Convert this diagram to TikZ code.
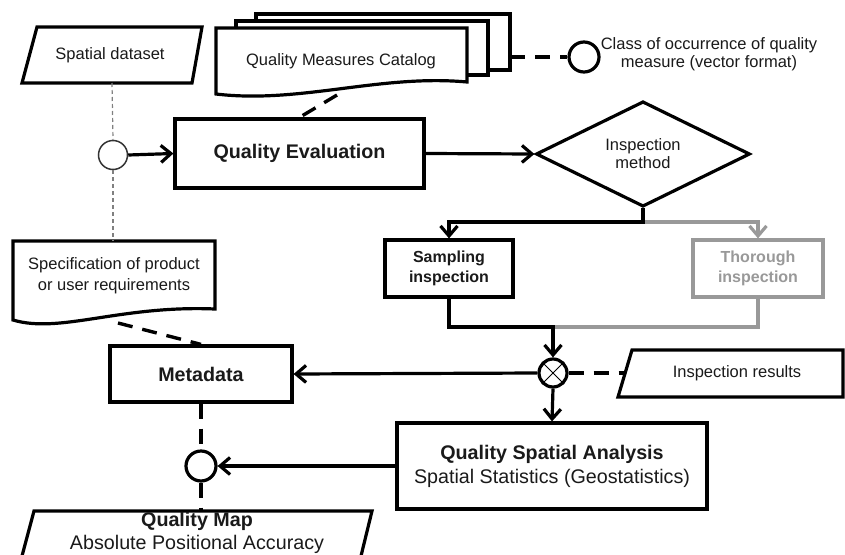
\documentclass[tikz,border=0pt]{standalone}
\usepackage{fontspec}
\setmainfont{Liberation Sans}
\usetikzlibrary{arrows.meta,shapes.geometric}
\definecolor{txt}{HTML}{1A1A1A}
\definecolor{ghost}{HTML}{999999}
\newcommand\fsreg{\fontsize{16.5}{19}\selectfont}
\newcommand\fsbig{\fontsize{19.7}{23.5}\selectfont}
\begin{document}
\begin{tikzpicture}[x=1pt,y=-1pt,
  shapeline/.style={draw=black, line width=3.2pt, fill=white, line join=miter},
  box/.style={shapeline, inner sep=0pt, text=txt, align=center},
  conn/.style={line width=3.2pt},
  arr/.style={conn, -{Straight Barb[length=10pt,width=17pt]}},
  thickdash/.style={line width=3.4pt, dash pattern=on 15pt off 10pt},
  thindash/.style={line width=1.2pt, draw=gray, dash pattern=on 4pt off 3pt},
  lbl/.style={text=txt, align=center, inner sep=0pt, font=\fsreg},
  ring/.style={circle, draw=black, line width=3.2pt, fill=white, inner sep=0pt, minimum size=#1},
]
\useasboundingbox (0,0) rectangle (845,554);

% ---- Quality Measures Catalog (stack of documents)
\draw[shapeline] (256,14) rectangle (510,70);
\draw[shapeline] (236,21) rectangle (488,75);
\draw[shapeline] (216,28) -- (467,28) -- (467,82) .. controls (380,74) and (300,104) .. (216,94) -- cycle;
\node[lbl] (qmc) at (341,61) {Quality Measures Catalog};
\coordinate (qmcR) at (510,57);
\coordinate (qmcB) at (337,95);

% ---- Class of occurrence
\node[ring=30pt] (cls) at (584,57) {};
\node[lbl, font=\fontsize{16.5}{18}\selectfont] (clst) at (709,54) {Class of occurrence of quality\\measure (vector format)};
\draw[thickdash] (qmcR) -- (cls.west);

% ---- Spatial dataset
\draw[shapeline] (37,27) -- (202,27) -- (192,83) -- (22,83) -- cycle;
\node[lbl] (sd) at (110,55) {Spatial dataset};
\coordinate (sdB) at (112,83);

% ---- Specification document
\draw[shapeline] (13,241) -- (215,241) -- (215,309) .. controls (120,305) and (60,334) .. (13,320) -- cycle;
\node[lbl, font=\fontsize{16.5}{21}\selectfont] (spec) at (114,276) {Specification of product\\or user requirements};
\coordinate (specT) at (113,241);
\coordinate (specB) at (118,323);

% ---- junction circle (thin)
\node[circle, draw=black!80, line width=1.5pt, fill=white, inner sep=0pt, minimum size=29pt] (o1) at (113,155) {};
\draw[thindash] (sdB) -- (o1.north);
\draw[thindash] (o1.south) -- (specT);

% ---- Quality Evaluation
\node[box, minimum width=249pt, minimum height=69pt, font=\fsbig\bfseries] (qe) at (299.5,153.5) {Quality Evaluation};
\draw[arr] (o1.east) -- (qe.west);
\draw[thickdash] (qmcB) -- (qe.north);

% ---- Inspection method
\node[diamond, draw=black, line width=3.2pt, fill=white, inner sep=0pt, minimum width=214pt, minimum height=94pt, text=txt, align=center, font=\fontsize{16.5}{18}\selectfont] (im) at (643,154) {Inspection\\method};
\draw[arr] (qe.east) -- (im.west);

% ---- Sampling / Thorough
\node[box, minimum width=128pt, minimum height=57pt, font=\fontsize{16}{20}\selectfont\bfseries] (si) at (449,268.5) {Sampling\\inspection};
\node[box, draw=ghost, text=ghost, minimum width=130pt, minimum height=57pt, font=\fontsize{16}{20}\selectfont\bfseries] (ti) at (758,268.5) {Thorough\\inspection};
\coordinate (split) at (643,222);
\draw[arr, draw=ghost] (split) -| (ti.north);
\draw[arr] (im.south) -- (split) -| (si.north);

% ---- merge and crossed circle
\node[ring=28pt] (ox) at (553,373) {};
\draw[line width=1pt] (ox.north west) -- (ox.south east) (ox.north east) -- (ox.south west);
\coordinate (merge) at (553,327);
\draw[conn, draw=ghost] (ti.south) |- (merge);
\draw[arr] (si.south) |- (merge) -- (ox.north);

% ---- Metadata
\node[box, minimum width=182pt, minimum height=56pt, font=\fsbig\bfseries] (md) at (201,374) {Metadata};
\draw[arr] (ox.west) -- (md.east);
\draw[thickdash] (specB) -- (md.north);

% ---- Inspection results
\draw[shapeline] (632,350) -- (843,350) -- (843,397) -- (618,397) -- cycle;
\node[lbl] (ir) at (737,373) {Inspection results};
\coordinate (irL) at (625,373);
\draw[thickdash] (ox.east) -- (irL);

% ---- Quality Spatial Analysis
\node[box, minimum width=310pt, minimum height=86pt, font=\fontsize{19.7}{24}\selectfont] (qsa) at (552,466) {\textbf{Quality Spatial Analysis}\\Spatial Statistics (Geostatistics)};
\draw[arr] (ox.south) -- (qsa.north);

% ---- output circle
\node[ring=30pt] (o3) at (201,466) {};
\draw[arr] (qsa.west) -- (o3.east);
\draw[thickdash] (md.south) -- (o3.north);
\coordinate (qmT) at (201,511);
\draw[thickdash] (o3.south) -- (qmT);

% ---- Quality Map
\draw[line width=3.2pt, line join=miter] (22,556) -- (34,511) -- (372,511) -- (361,556);
\node[lbl, font=\fontsize{19.7}{23}\selectfont] (qm) at (197,533) {\textbf{Quality Map}\\Absolute Positional Accuracy};
\end{tikzpicture}
\end{document}
